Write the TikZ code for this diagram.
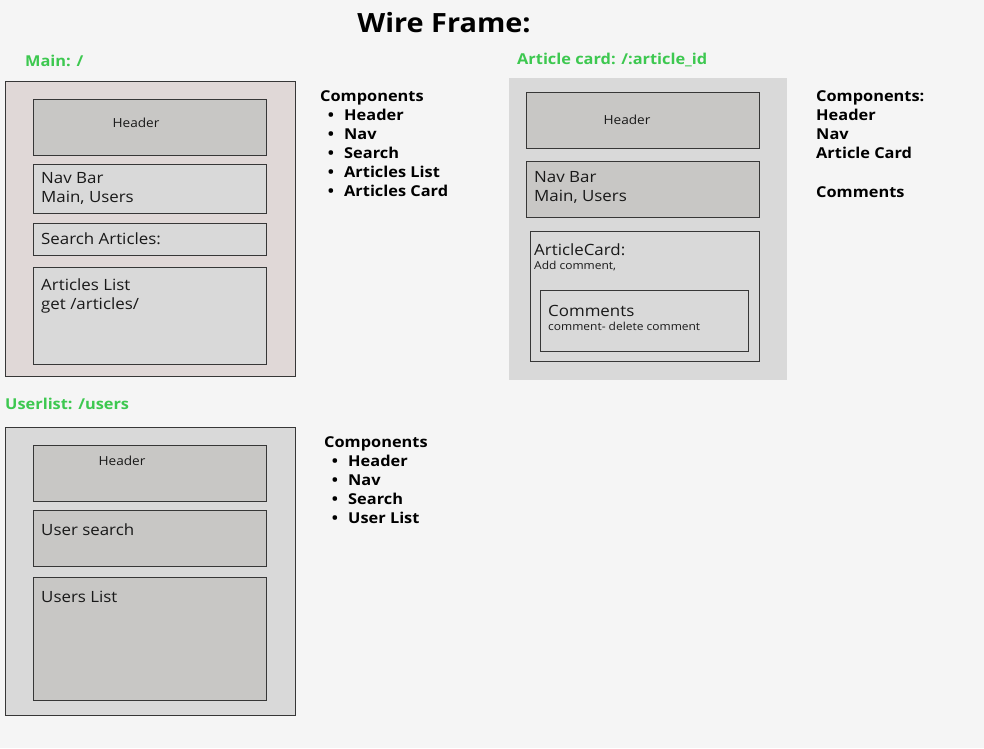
\documentclass[tikz,border=0pt]{standalone}
\usepackage{fontspec}
\setmainfont{Open Sans}[FakeStretch=1.09]
\definecolor{bgc}{RGB}{245,245,245}
\definecolor{greenc}{RGB}{61,200,80}
\definecolor{pinkc}{RGB}{224,216,215}
\definecolor{lightc}{RGB}{217,217,217}
\definecolor{darkc}{RGB}{200,199,197}
\definecolor{linec}{RGB}{55,55,55}
\begin{document}
\begin{tikzpicture}[x=1pt,y=-1pt,
  panel/.style={draw=linec,line width=1pt,anchor=north west,inner sep=0pt,outer sep=0pt},
  boxd/.style={draw=linec,line width=1pt,fill=darkc,anchor=north west,inner sep=0pt,outer sep=0pt},
  boxl/.style={draw=linec,line width=1pt,fill=lightc,anchor=north west,inner sep=0pt,outer sep=0pt},
  txt/.style={anchor=base west,inner sep=0pt,font=\fontsize{15.5}{18}\selectfont,text=black!90},
  small/.style={anchor=base,inner sep=0pt,font=\fontsize{12.5}{15}\selectfont,text=black!90},
  tiny/.style={anchor=base west,inner sep=0pt,font=\fontsize{11}{13}\selectfont,text=black!90},
  comp/.style={anchor=base west,inner sep=0pt,font=\fontsize{15}{18}\selectfont\bfseries},
  bul/.style={anchor=base,inner sep=0pt,font=\fontsize{15}{18}\selectfont\bfseries},
  route/.style={anchor=base west,inner sep=0pt,font=\fontsize{15}{18}\selectfont\bfseries,text=greenc}]
\useasboundingbox[fill=bgc] (0,0) rectangle (984,748);
\node[anchor=base,inner sep=0pt,font=\fontsize{26.5}{30}\selectfont\bfseries] (title) at (444,32) {Wire Frame:};

% Main panel
\node[route] (mainr) at (25,66) {Main: /};
\node[panel,fill=pinkc,minimum width=290pt,minimum height=295pt] (mainp) at (5,81) {};
\node[boxd,minimum width=233pt,minimum height=56pt] (mh) at (33,99) {};
\node[small] (mht) at (136,127.5) {Header};
\node[boxl,minimum width=233pt,minimum height=49pt] (mn) at (33,164) {};
\node[txt] (mnt1) at (41,183) {Nav Bar};
\node[txt] (mnt2) at (41,202) {Main, Users};
\node[boxl,minimum width=233pt,minimum height=32pt] (ms) at (33,223) {};
\node[txt] (mst) at (41,244) {Search Articles:};
\node[boxl,minimum width=233pt,minimum height=97pt] (ml) at (33,267) {};
\node[txt] (mlt1) at (41,290) {Articles List};
\node[txt] (mlt2) at (41,309) {get /articles/};

\node[comp] (c1) at (320,101) {Components};
\foreach \t/\yy [count=\i] in {Header/120,Nav/139,Search/158,Articles List/177,Articles Card/196}{
  \node[bul] (c1b\i) at (331,\yy) {•};
  \node[comp] (c1t\i) at (344,\yy) {\t};
}

% Article card panel
\node[route] (artr) at (517,64) {Article card: /:article\_id};
\node[panel,draw=none,fill=lightc,minimum width=278pt,minimum height=302pt] (artp) at (509,78) {};
\node[boxd,minimum width=233pt,minimum height=56pt] (ah) at (526,92) {};
\node[small] (aht) at (627,124) {Header};
\node[boxd,minimum width=233pt,minimum height=56pt] (an) at (526,161) {};
\node[txt] (ant1) at (534,182) {Nav Bar};
\node[txt] (ant2) at (534,201) {Main, Users};
\node[boxl,minimum width=229pt,minimum height=130pt] (ac) at (530,231) {};
\node[txt] (act1) at (534,255) {ArticleCard:};
\node[tiny] (act2) at (534,269) {Add comment,};
\node[boxl,minimum width=208pt,minimum height=61pt] (acm) at (540,290) {};
\node[txt] (acmt1) at (548,316) {Comments};
\node[tiny] (acmt2) at (548,330) {comment- delete comment};

\node[comp] (c2) at (816,101) {Components:};
\node[comp] (c2t1) at (816,120) {Header};
\node[comp] (c2t2) at (816,139) {Nav};
\node[comp] (c2t3) at (816,158) {Article Card};
\node[comp] (c2t4) at (816,197) {Comments};

% Userlist panel
\node[route] (usr) at (5,409) {Userlist: /users};
\node[panel,fill=lightc,minimum width=290pt,minimum height=288pt] (usp) at (5,427) {};
\node[boxd,minimum width=233pt,minimum height=56pt] (uh) at (33,445) {};
\node[small] (uht) at (122,465.5) {Header};
\node[boxd,minimum width=233pt,minimum height=56pt] (us) at (33,510) {};
\node[txt] (ust) at (41,535) {User search};
\node[boxd,minimum width=233pt,minimum height=123pt] (ul) at (33,577) {};
\node[txt] (ult) at (41,602) {Users List};

\node[comp] (c3) at (324,447) {Components};
\foreach \t/\yy [count=\i] in {Header/466,Nav/485,Search/504,User List/523}{
  \node[bul] (c3b\i) at (335,\yy) {•};
  \node[comp] (c3t\i) at (348,\yy) {\t};
}
\end{tikzpicture}
\end{document}
